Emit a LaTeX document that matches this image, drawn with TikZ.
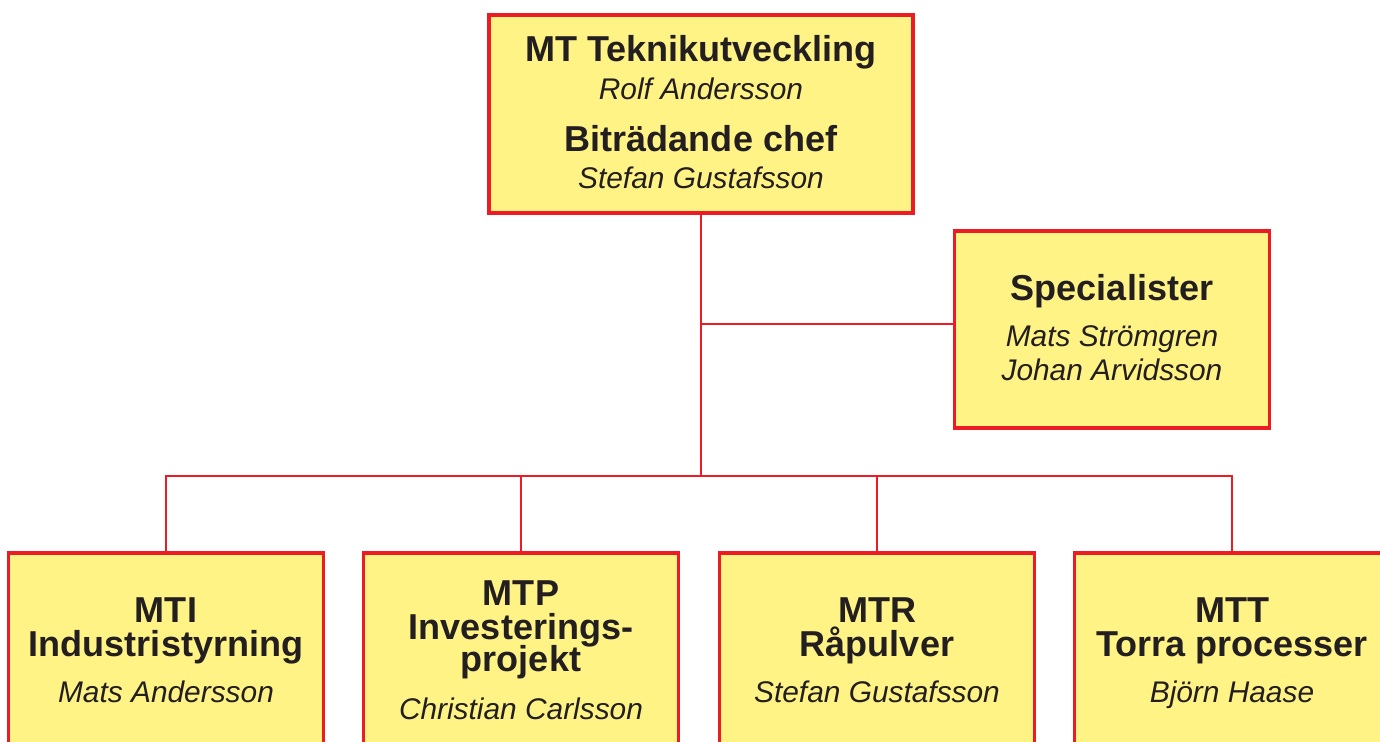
\documentclass[tikz,border=0pt]{standalone}
\usepackage{fontspec}
\setmainfont{Liberation Sans}
\definecolor{boxfill}{HTML}{FFF385}
\definecolor{boxline}{HTML}{ED1C24}
\definecolor{ink}{HTML}{231F20}

\begin{document}
\begin{tikzpicture}[x=0.02cm,y=-0.02cm]
\tikzstyle{orgbox}=[draw=boxline,fill=boxfill,line width=1.8pt,minimum width=6.3cm,inner sep=0pt];
\tikzstyle{unitname}=[font=\fontsize{20.5}{24}\selectfont\bfseries,text=ink,inner sep=0pt,anchor=base];
\tikzstyle{person}=[font=\fontsize{17}{20}\selectfont\itshape,text=ink,inner sep=0pt,anchor=base];
\tikzstyle{link}=[draw=boxline,line width=1.1pt];

\useasboundingbox (0,0) rectangle (1380,742);
\clip (0,0) rectangle (1380,742);

% top
\node [orgbox,minimum width=8.48cm,minimum height=3.96cm] (mt) at (701,114) {};
\node [unitname] (mt-title) at (701,62) {MT Teknikutveckling};
\node [person] (mt-chef) at (701,100) {Rolf Andersson};
\node [unitname] (mt-deputy) at (701,152) {Biträdande chef};
\node [person] (mt-bitr) at (701,189) {Stefan Gustafsson};

% staff
\node [orgbox,minimum height=3.94cm] (spec) at (1112,329.5) {};
\node [unitname] (spec-title) at (1112,301) {Specialister};
\node [person] (spec-a) at (1112,347) {Mats Strömgren};
\node [person] (spec-b) at (1112,381) {Johan Arvidsson};

% units
\node [orgbox,minimum height=4.8cm] (mti) at (166,673) {};
\node [unitname] (mti-code) at (166,623) {MTI};
\node [unitname] (mti-area) at (166,657) {Industristyrning};
\node [person] (mti-head) at (166,703) {Mats Andersson};

\node [orgbox,minimum height=4.8cm] (mtp) at (521,673) {};
\node [unitname] (mtp-code) at (521,606) {MTP};
\node [unitname,text depth=0pt] (mtp-area) at (521,640) {Investerings-};
\node [unitname,text height=1.4ex] (mtp-area2) at (521,672) {projekt};
\node [person] (mtp-head) at (521,720) {Christian Carlsson};

\node [orgbox,minimum height=4.8cm] (mtr) at (877,673) {};
\node [unitname] (mtr-code) at (877,623) {MTR};
\node [unitname] (mtr-area) at (877,657) {Råpulver};
\node [person] (mtr-head) at (877,703) {Stefan Gustafsson};

\node [orgbox,minimum height=4.8cm] (mtt) at (1232,673) {};
\node [unitname] (mtt-code) at (1232,623) {MTT};
\node [unitname] (mtt-area) at (1232,657) {Torra processer};
\node [person] (mtt-head) at (1232,703) {Björn Haase};

% lines
\coordinate (branch) at (701,324);
\coordinate (bus) at (701,476);
\draw [link] (mt.south) -- (bus);
\draw [link] (branch) -- (branch -| spec.west);
\foreach \u in {mti,mtp,mtr,mtt}
  \draw [link] (bus) -| (\u.north);
\end{tikzpicture}
\end{document}
